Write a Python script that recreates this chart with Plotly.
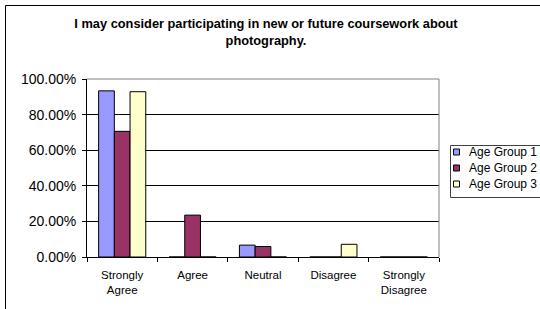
import plotly.graph_objects as go

categories = ["Strongly<br>Agree", "Agree", "Neutral", "Disagree", "Strongly<br>Disagree"]
series_names = ["Age Group 1", "Age Group 2", "Age Group 3"]
age_group_1 = [0.9333, 0.0, 0.0667, 0.0, 0.0]
age_group_2 = [0.7059, 0.2353, 0.0588, 0.0, 0.0]
age_group_3 = [0.9286, 0.0, 0.0, 0.0714, 0.0]
colors = ["#9999FF", "#993366", "#FFFFCC"]
y_ticks = [0, 0.2, 0.4, 0.6, 0.8, 1.0]
y_tick_labels = ["0.00%", "20.00%", "40.00%", "60.00%", "80.00%", "100.00%"]

FONT = "Arial, Liberation Sans, sans-serif"
W, H = 540, 309
ML, MR, MT, MB = 87, 101, 79, 52
PW, PH = W - ML - MR, H - MT - MB

def px_x(p):
    return (p - ML) / PW

def px_y(p):
    return (H - MB - p) / PH

fig = go.Figure()
for name, vals, col in zip(series_names, [age_group_1, age_group_2, age_group_3], colors):
    fig.add_trace(go.Bar(
        x=categories, y=vals, name=name,
        marker=dict(color=col, line=dict(color="black", width=1)),
    ))

shapes = [
    dict(type="line", xref="paper", yref="paper", x0=0, x1=1, y0=1, y1=1,
         line=dict(color="#808080", width=1)),
    dict(type="line", xref="paper", yref="paper", x0=1, x1=1, y0=0, y1=1,
         line=dict(color="#808080", width=1)),
    dict(type="line", xref="paper", yref="paper", x0=px_x(5.5), x1=px_x(545), y0=px_y(5.5), y1=px_y(5.5),
         line=dict(color="black", width=1)),
    dict(type="line", xref="paper", yref="paper", x0=px_x(5.5), x1=px_x(5.5), y0=px_y(5.5), y1=px_y(320),
         line=dict(color="black", width=1)),
    # legend box
    dict(type="rect", xref="paper", yref="paper", x0=px_x(450.5), x1=px_x(560), y0=px_y(145.5), y1=px_y(197.5),
         line=dict(color="#404040", width=1), fillcolor="white"),
]
annotations = []
row_y = [152, 168, 184]
for name, col, ry in zip(series_names, colors, row_y):
    shapes.append(dict(type="rect", xref="paper", yref="paper",
                       x0=px_x(453.5), x1=px_x(459.5), y0=px_y(ry - 3), y1=px_y(ry + 3),
                       line=dict(color="black", width=1), fillcolor=col))
    annotations.append(dict(text=name, xref="paper", yref="paper", x=px_x(467), y=px_y(ry),
                            xanchor="left", yanchor="middle", showarrow=False,
                            font=dict(family=FONT, size=12, color="black")))

fig.update_layout(
    width=W, height=H,
    margin=dict(l=ML, r=MR, t=MT, b=MB, autoexpand=False),
    paper_bgcolor="white", plot_bgcolor="white",
    font=dict(family=FONT, size=11, color="black"),
    barmode="group", bargap=0.33, bargroupgap=0,
    title=dict(
        text="<b>I may consider participating in new or future coursework about<br>photography.</b>",
        x=266 / W, xref="container", xanchor="center",
        y=1 - 28 / H, yref="container", yanchor="top",
        font=dict(family=FONT, size=12.8, color="black"),
        pad=dict(t=0, b=0, l=0, r=0),
    ),
    xaxis=dict(
        type="category", showline=True, linecolor="black", linewidth=1,
        ticks="outside", ticklen=4, tickcolor="black", tickson="boundaries",
        showgrid=False, tickfont=dict(size=11.5), fixedrange=True,
        ticklabelstandoff=7,
    ),
    yaxis=dict(
        range=[0, 1.0], tickvals=y_ticks, ticktext=y_tick_labels,
        showline=True, linecolor="black", linewidth=1,
        ticks="outside", ticklen=4, tickcolor="black",
        showgrid=True, gridcolor="black", gridwidth=1,
        zeroline=False, tickfont=dict(size=14), fixedrange=True,
        ticklabelstandoff=3,
    ),
    showlegend=False,
    shapes=shapes,
    annotations=annotations,
)

fig.write_html(
    "out.html",
    config={"displayModeBar": False},
    post_script="document.body.style.margin='0';document.body.style.overflow='hidden';",
)
